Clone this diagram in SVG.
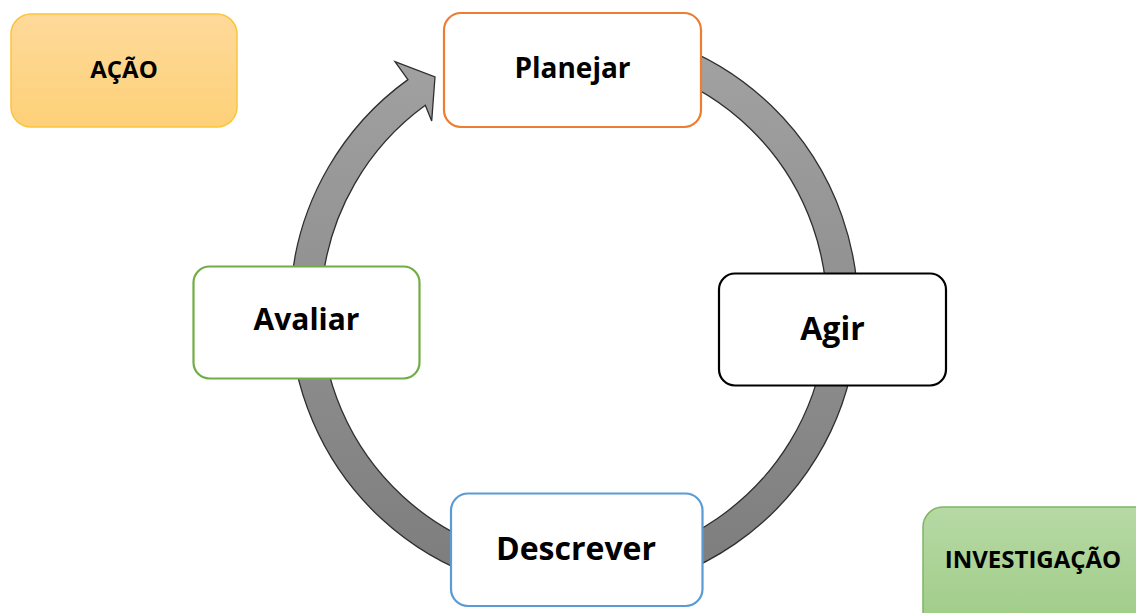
<svg xmlns="http://www.w3.org/2000/svg" width="1136" height="613" viewBox="0 0 1136 613">
  <defs>
    <linearGradient id="ringGrad" x1="0" y1="0" x2="0" y2="1">
      <stop offset="0" stop-color="#a2a2a2"/>
      <stop offset="1" stop-color="#7c7c7c"/>
    </linearGradient>
    <linearGradient id="orangeGrad" x1="0" y1="0" x2="0" y2="1">
      <stop offset="0" stop-color="#fed99a"/>
      <stop offset="1" stop-color="#fdd178"/>
    </linearGradient>
    <linearGradient id="greenGrad" x1="0" y1="0" x2="0" y2="1">
      <stop offset="0" stop-color="#b7d9a5"/>
      <stop offset="1" stop-color="#9dcb85"/>
    </linearGradient>
  </defs>
  <style>
    .box { fill: #ffffff; stroke-width: 2.2; }
    .lbl { font-family: "Open Sans", "Liberation Sans", sans-serif; font-weight: bold; fill: #000000; text-anchor: middle; }
  </style>
  <rect width="1136" height="613" fill="#ffffff"/>

  <g id="connectors">
    <path d="M 671.1 43.1 A 284 284 0 1 1 407.9 79.6 L 395 61.7 L 435 77 L 431.7 121 L 425.3 105.3 A 253 253 0 1 0 660.5 72.3 Z"
          fill="url(#ringGrad)" stroke="#2e2e2e" stroke-width="1.3" stroke-linejoin="miter"/>
  </g>

  <g id="acao">
    <rect x="11" y="14" width="226" height="113" rx="20" fill="url(#orangeGrad)" stroke="#fcc43c" stroke-width="1.5"/>
    <text class="lbl" x="124" y="78" font-size="24">AÇÃO</text>
  </g>

  <g id="investigacao">
    <rect x="923" y="507" width="240" height="130" rx="20" fill="url(#greenGrad)" stroke="#7fb763" stroke-width="1.5"/>
    <text class="lbl" x="1033" y="568" font-size="24">INVESTIGAÇÃO</text>
  </g>

  <g id="planejar">
    <rect class="box" x="444" y="13" width="257" height="114" rx="17" stroke="#ed7d31"/>
    <text class="lbl" x="572.5" y="78" font-size="28">Planejar</text>
  </g>

  <g id="agir">
    <rect class="box" x="719" y="273.5" width="227" height="112" rx="16" stroke="#000000"/>
    <text class="lbl" x="832.5" y="340" font-size="32">Agir</text>
  </g>

  <g id="descrever">
    <rect class="box" x="451" y="493.5" width="251.5" height="112.5" rx="17" stroke="#5b9bd5"/>
    <text class="lbl" x="576" y="560" font-size="32">Descrever</text>
  </g>

  <g id="avaliar">
    <rect class="box" x="193.5" y="266.5" width="226" height="112" rx="16" stroke="#70ad47"/>
    <text class="lbl" x="306.5" y="330" font-size="30">Avaliar</text>
  </g>
</svg>
